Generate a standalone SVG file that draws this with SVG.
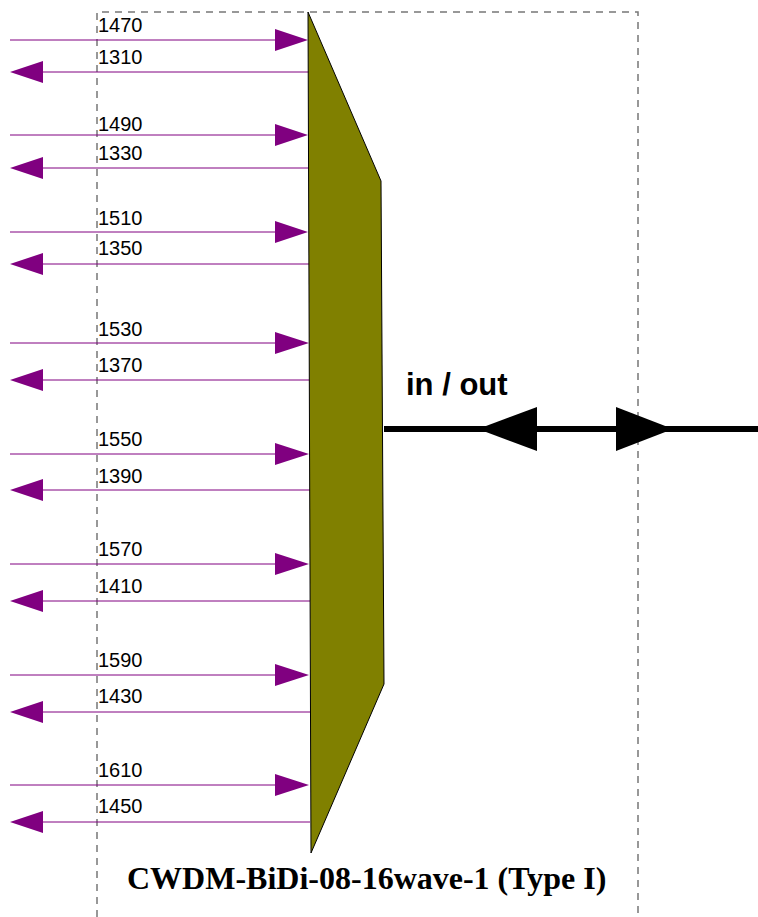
<svg xmlns="http://www.w3.org/2000/svg" width="758" height="917" viewBox="0 0 758 917">
<style>
.frame{fill:none;stroke:#777;stroke-width:1.5;stroke-dasharray:7 6}
.ln{stroke:#800080;stroke-width:1;fill:none}
.ah{fill:#800080;stroke:none}
.lbl{font-family:"Liberation Sans",Arial,sans-serif;font-size:20px;fill:#000}
.io{font-family:"Liberation Sans",Arial,sans-serif;font-size:31px;font-weight:bold;fill:#000}
.title{font-family:"Liberation Serif","Times New Roman",serif;font-size:32px;font-weight:bold;fill:#000}
</style>
<rect width="758" height="917" fill="#fff"/>
<g id="frame">
<path class="frame" d="M97,917 V12 H638 V917"/>
</g>
<g id="connectors">
<line class="ln" x1="10" y1="40" x2="280" y2="40"/><polygon class="ah" points="275,29 308,40 275,51"/>
<line class="ln" x1="10" y1="135" x2="280" y2="135"/><polygon class="ah" points="275,124 308,135 275,146"/>
<line class="ln" x1="10" y1="232" x2="280" y2="232"/><polygon class="ah" points="275,221 308,232 275,243"/>
<line class="ln" x1="10" y1="343" x2="280" y2="343"/><polygon class="ah" points="275,332 309,343 275,354"/>
<line class="ln" x1="10" y1="454" x2="280" y2="454"/><polygon class="ah" points="275,443 309,454 275,465"/>
<line class="ln" x1="10" y1="564" x2="280" y2="564"/><polygon class="ah" points="275,553 309,564 275,575"/>
<line class="ln" x1="10" y1="675" x2="280" y2="675"/><polygon class="ah" points="275,664 309,675 275,686"/>
<line class="ln" x1="10" y1="785" x2="280" y2="785"/><polygon class="ah" points="275,774 309,785 275,796"/>
<line class="ln" x1="40" y1="72" x2="309" y2="72"/><polygon class="ah" points="43,61 10,72 43,83"/>
<line class="ln" x1="40" y1="168" x2="309" y2="168"/><polygon class="ah" points="43,157 10,168 43,179"/>
<line class="ln" x1="40" y1="264" x2="309" y2="264"/><polygon class="ah" points="43,253 10,264 43,275"/>
<line class="ln" x1="40" y1="380" x2="309" y2="380"/><polygon class="ah" points="43,369 10,380 43,391"/>
<line class="ln" x1="40" y1="490" x2="310" y2="490"/><polygon class="ah" points="43,479 10,490 43,501"/>
<line class="ln" x1="40" y1="601" x2="310" y2="601"/><polygon class="ah" points="43,590 10,601 43,612"/>
<line class="ln" x1="40" y1="712" x2="310" y2="712"/><polygon class="ah" points="43,701 10,712 43,723"/>
<line class="ln" x1="40" y1="822" x2="310" y2="822"/><polygon class="ah" points="43,811 10,822 43,833"/>
<line x1="384" y1="429" x2="758" y2="429" stroke="#000" stroke-width="6"/>
<polygon points="537,407 478,429 537,451" fill="#000"/>
<polygon points="616,407 673,429 616,451" fill="#000"/>
</g>
<g id="mux">
<polygon points="308,12 381,181 384,684 311,853" fill="#808000" stroke="#000" stroke-width="1"/>
</g>
<g id="labels">
<text class="lbl" x="98" y="32">1470</text>
<text class="lbl" x="98" y="64">1310</text>
<text class="lbl" x="98" y="131">1490</text>
<text class="lbl" x="98" y="160">1330</text>
<text class="lbl" x="98" y="225">1510</text>
<text class="lbl" x="98" y="255">1350</text>
<text class="lbl" x="98" y="336">1530</text>
<text class="lbl" x="98" y="372">1370</text>
<text class="lbl" x="98" y="446">1550</text>
<text class="lbl" x="98" y="483">1390</text>
<text class="lbl" x="98" y="556">1570</text>
<text class="lbl" x="98" y="593">1410</text>
<text class="lbl" x="98" y="667">1590</text>
<text class="lbl" x="98" y="703">1430</text>
<text class="lbl" x="98" y="777">1610</text>
<text class="lbl" x="98" y="813">1450</text>
<text class="io" x="406" y="395">in / out</text>
<text class="title" x="127" y="889">CWDM-BiDi-08-16wave-1 (Type I)</text>
</g>
</svg>
